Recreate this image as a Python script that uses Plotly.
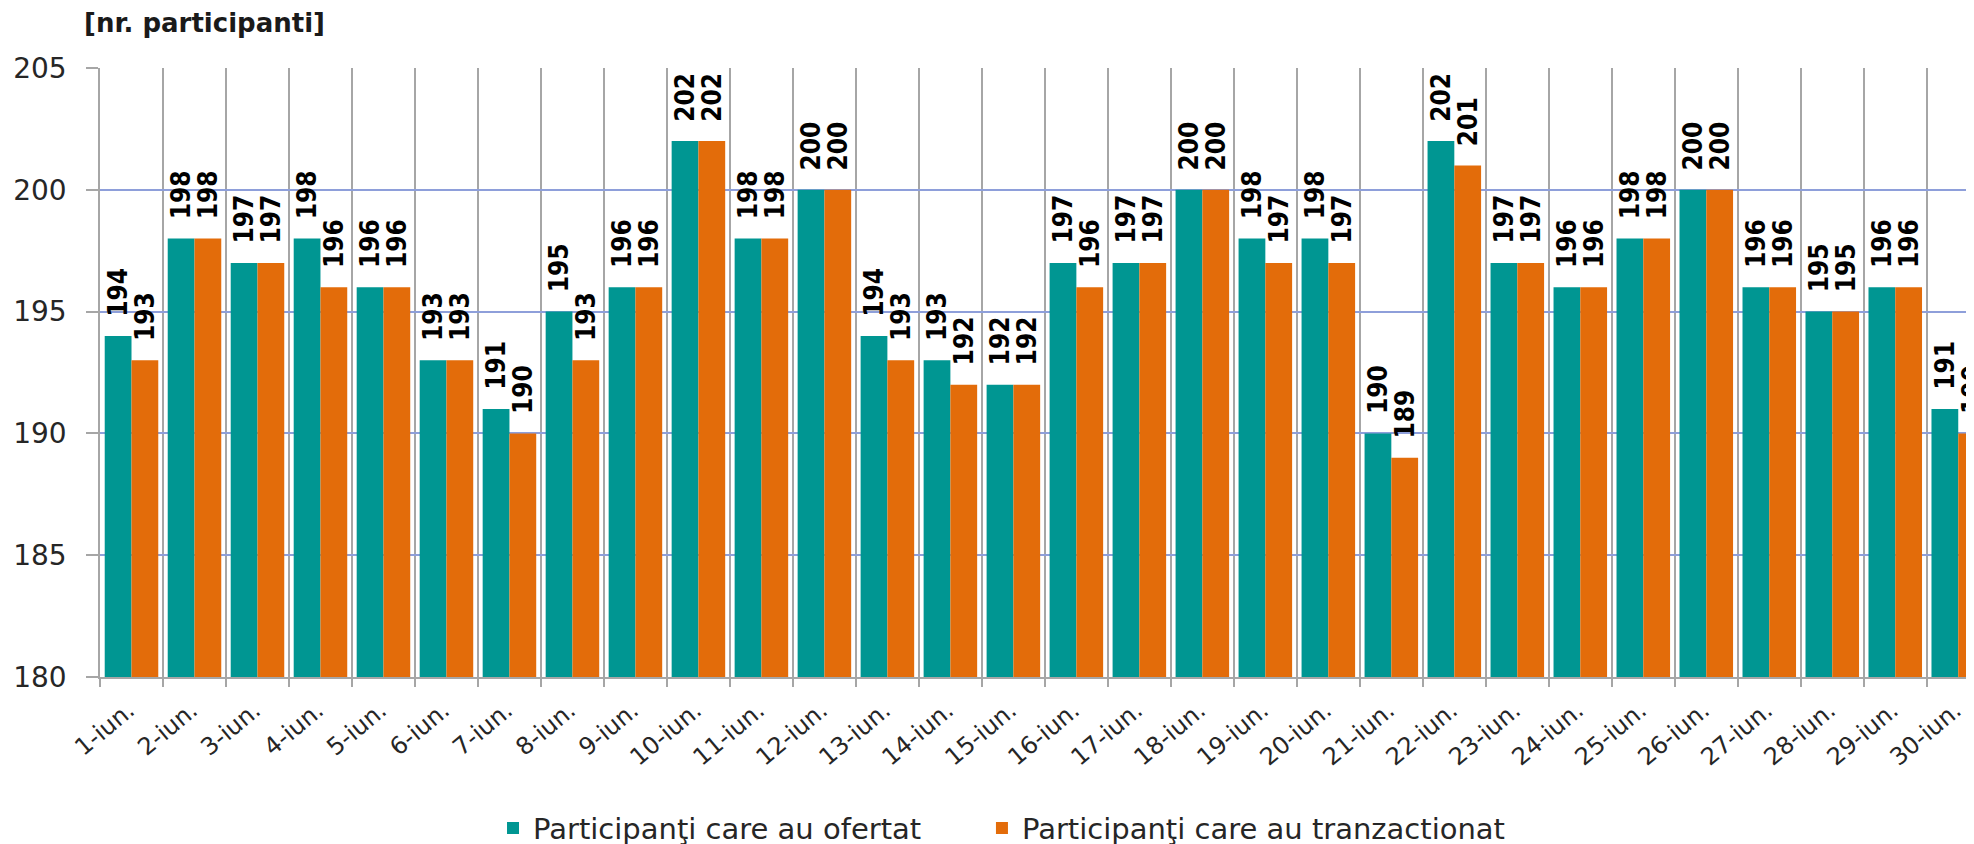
import plotly.graph_objects as go

days = [f"{d}-iun." for d in range(1, 31)]
ofertat = [194, 198, 197, 198, 196, 193, 191, 195, 196, 202,
           198, 200, 194, 193, 192, 197, 197, 200, 198, 198,
           190, 202, 197, 196, 198, 200, 196, 195, 196, 191]
tranzactionat = [193, 198, 197, 196, 196, 193, 190, 193, 196, 202,
                 198, 200, 193, 192, 192, 196, 197, 200, 197, 197,
                 189, 201, 197, 196, 198, 200, 196, 195, 196, 190]
name_of = "Participanţi care au ofertat"
name_tr = "Participanţi care au tranzactionat"
y_ticks = [180, 185, 190, 195, 200, 205]

TEAL = "#009692"
ORANGE = "#E36C0A"
label_font = dict(family="DejaVu Sans Condensed, Liberation Sans Narrow, sans-serif",
                  size=26, color="#000000", weight="bold")

fig = go.Figure()
for vals, nm, col, lg in [(ofertat, name_of, TEAL, "legend"),
                          (tranzactionat, name_tr, ORANGE, "legend2")]:
    fig.add_trace(go.Bar(
        x=days, y=vals, name=nm, legend=lg,
        marker=dict(color=col, line=dict(width=0)),
        texttemplate="\u00a0\u00a0%{y}", textposition="outside", textangle=-90,
        constraintext="none", cliponaxis=False, textfont=label_font,
    ))

legend_font = dict(family="DejaVu Sans", size=29, color="#262626")
# page body has an 8px margin: figure occupies x 8..1974, y 8..844
fig.update_layout(
    width=1966, height=836,
    margin=dict(l=92, r=0, t=60, b=167, autoexpand=False),
    paper_bgcolor="white", plot_bgcolor="white",
    barmode="group", bargap=0.15, bargroupgap=0,
    showlegend=True,
    legend=dict(orientation="h", xref="container", yref="container",
                x=0.2467, xanchor="left", y=0.019, yanchor="middle",
                font=legend_font, itemwidth=30),
    legend2=dict(orientation="h", xref="container", yref="container",
                 x=0.4954, xanchor="left", y=0.019, yanchor="middle",
                 font=legend_font, itemwidth=30),
    font=dict(family="DejaVu Sans", color="#262626"),
)
fig.update_xaxes(
    type="category", range=[-0.5, 29.25], tickson="boundaries", automargin=False,
    showgrid=True, gridcolor="#A6A6A6", gridwidth=1.5,
    showline=True, linecolor="#A6A6A6", linewidth=1.5,
    ticks="outside", ticklen=8, tickcolor="#A6A6A6", tickwidth=1.5,
    tickangle=-40, ticklabelstandoff=8, ticklabelshift=-3,
    tickfont=dict(family="DejaVu Sans", size=24, color="#262626"),
)
fig.update_yaxes(
    range=[180, 205], tickvals=y_ticks, automargin=False,
    showgrid=True, gridcolor="#8E9FDA", gridwidth=1.5,
    showline=True, linecolor="#A6A6A6", linewidth=1.5,
    ticks="outside", ticklen=12, tickcolor="#A6A6A6", tickwidth=1.5,
    ticklabelstandoff=14,
    tickfont=dict(family="DejaVu Sans", size=28, color="#262626"),
    zeroline=False,
)
fig.add_annotation(
    text="[nr. participanti]", xref="paper", yref="paper",
    x=-0.0096, y=1.0739, xanchor="left", yanchor="middle", showarrow=False,
    font=dict(family="DejaVu Sans", size=26, color="#1a1a1a", weight="bold"),
)
fig.write_html("out.html")
